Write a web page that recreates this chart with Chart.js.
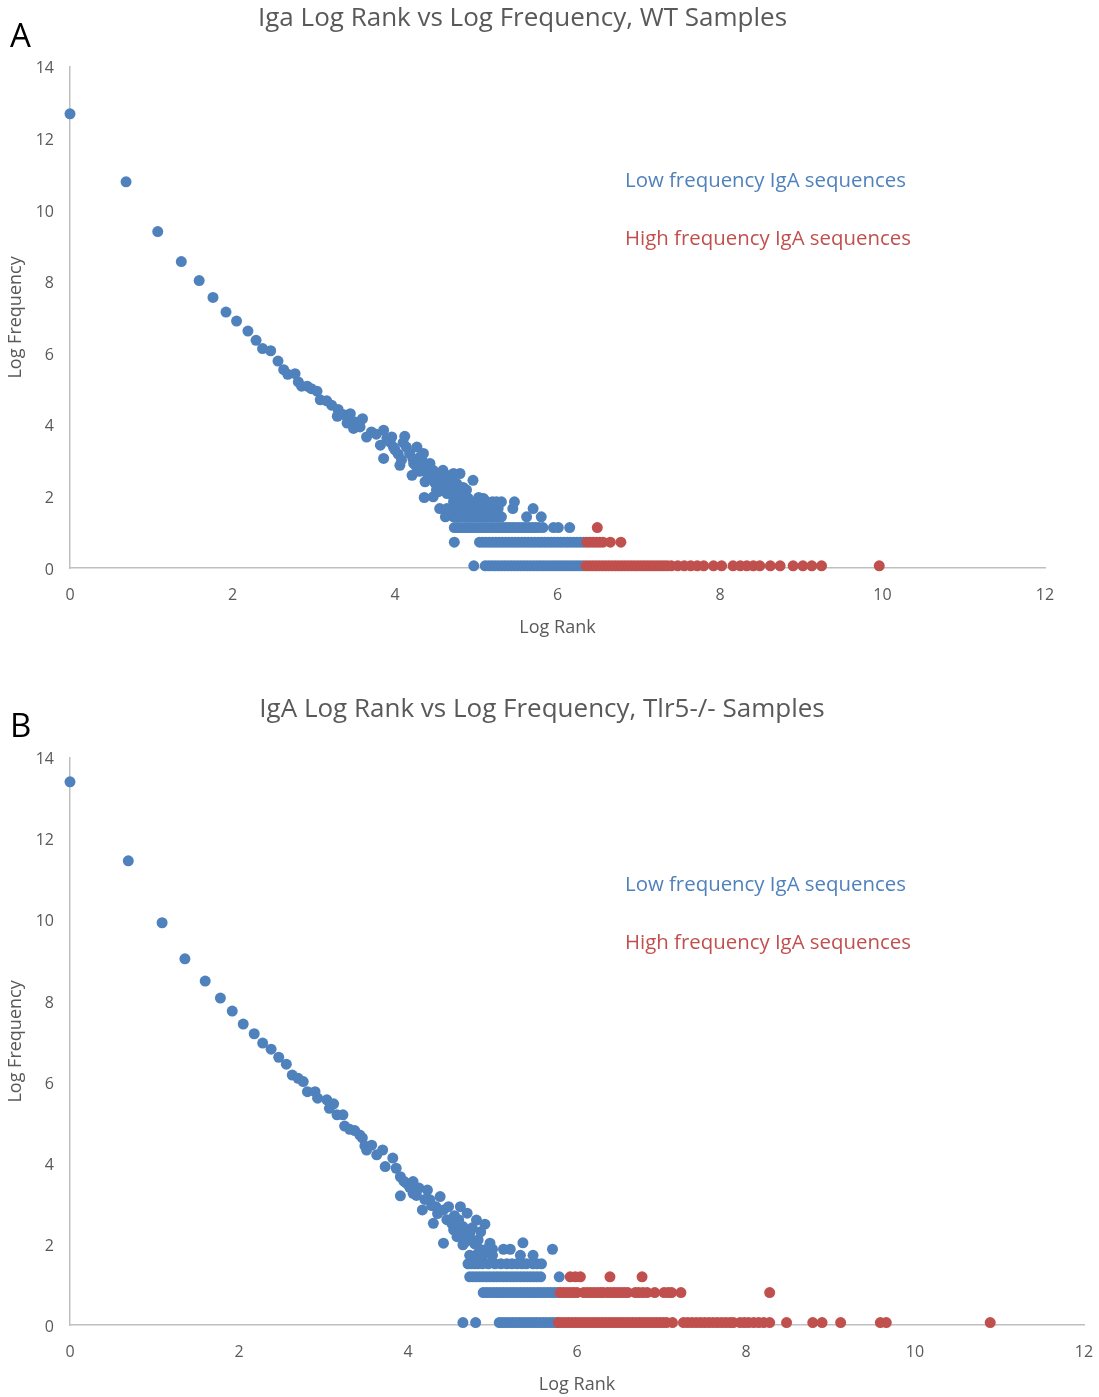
<!DOCTYPE html>
<html lang="en">
<head>
<meta charset="UTF-8">
<title>IgA Log Rank vs Log Frequency</title>
<script src="https://cdn.jsdelivr.net/npm/chart.js@4.4.1/dist/chart.umd.min.js"></script>
<style>
  body { margin: 0; background: #fff; font-family: "Open Sans", sans-serif; }
  .page { position: relative; width: 1099px; height: 1397px; overflow: hidden; }
  .panel { position: absolute; left: 0; }
  .letter { position: absolute; left: 10px; font-size: 33px; line-height: 36px; color: #000; }
  .note { position: absolute; left: 625px; font-size: 20.4px; line-height: 26px; white-space: nowrap; }
  .low { color: #4F81BD; }
  .high { color: #C0504D; }
</style>
</head>
<body>
<div class="page">
  <div class="panel" style="top:0">
    <canvas id="wtChart" width="1054" height="640"></canvas>
  </div>
  <div class="letter" style="top:17px">A</div>
  <div class="note low" style="top:166px">Low frequency IgA sequences</div>
  <div class="note high" style="top:224px">High frequency IgA sequences</div>

  <div class="panel" style="top:690px">
    <canvas id="tlrChart" width="1099" height="707"></canvas>
  </div>
  <div class="letter" style="top:707px">B</div>
  <div class="note low" style="top:870px">Low frequency IgA sequences</div>
  <div class="note high" style="top:928px">High frequency IgA sequences</div>
</div>

<script>
// ---- WT samples ----
const wtTopX = [0, 0.69, 1.08, 1.37, 1.59, 1.76, 1.92, 2.05, 2.19, 2.29, 2.37, 2.47, 2.56, 2.63, 2.68, 2.77, 2.81, 2.85, 2.92, 2.97,
  3.04, 3.08, 3.16, 3.22, 3.30, 3.29, 3.36, 3.45, 3.41, 3.49, 3.51, 3.60, 3.57, 3.65, 3.71, 3.77, 3.82, 3.86, 3.90, 3.96,
  3.98, 3.86, 4.04, 4.06, 4.12, 4.14, 4.21, 4.23, 4.27, 4.31, 4.35, 4.39, 4.37, 4.43, 4.47, 4.51, 4.55, 4.59, 4.62, 4.36,
  4.47, 4.53, 4.66, 4.72, 4.80, 4.76, 4.72, 4.88, 4.96, 3.94, 4.00, 4.08, 4.10, 4.18, 4.22, 4.26, 4.30, 4.34, 4.40, 4.45,
  4.49, 4.53, 4.58, 4.58, 4.64, 4.66, 4.68, 4.70, 4.74, 4.78, 4.84, 4.86, 4.90, 5.03, 5.09];
const wtTopY = [12.69, 10.79, 9.40, 8.56, 8.03, 7.56, 7.15, 6.90, 6.62, 6.36, 6.13, 6.07, 5.78, 5.54, 5.41, 5.43, 5.20, 5.08, 5.08, 5.01,
  4.94, 4.70, 4.67, 4.55, 4.43, 4.24, 4.29, 4.31, 4.05, 3.90, 4.08, 4.17, 3.94, 3.66, 3.80, 3.74, 3.43, 3.85, 3.62, 3.66,
  3.38, 3.06, 3.18, 2.87, 3.68, 3.38, 2.59, 2.92, 3.38, 3.10, 3.20, 2.82, 2.41, 2.92, 2.73, 2.18, 2.55, 2.73, 2.41, 1.97,
  1.99, 2.13, 2.22, 2.64, 2.64, 2.36, 1.99, 2.18, 2.45, 3.52, 3.30, 3.02, 3.50, 3.20, 3.05, 2.85, 2.70, 2.98, 2.62, 2.50,
  2.38, 2.30, 2.20, 2.45, 2.08, 2.58, 2.30, 2.48, 2.15, 2.00, 2.25, 2.05, 1.95, 1.97, 1.94];

const wtLevels = [0.06, 0.72, 1.13, 1.43, 1.66, 1.85];
const wtLowRow1 = [4.97, 5.11, 5.15, 5.19, 5.23, 5.27, 5.31, 5.35, 5.39, 5.43, 5.47, 5.51, 5.55, 5.59, 5.63, 5.67, 5.71, 5.75,
  5.79, 5.83, 5.87, 5.91, 5.95, 5.99, 6.03, 6.07, 6.11, 6.15, 6.19, 6.23, 6.27, 6.31];
const wtLowRow2 = [4.73, 5.04, 5.08, 5.12, 5.16, 5.20, 5.24, 5.28, 5.32, 5.36, 5.40, 5.44, 5.48, 5.52, 5.56, 5.60, 5.64, 5.68,
  5.72, 5.76, 5.80, 5.84, 5.88, 5.92, 5.96, 6.00, 6.04, 6.08, 6.12, 6.16, 6.20, 6.24, 6.28, 6.32];
const wtLowRow3 = [4.73, 4.77, 4.81, 4.85, 4.89, 4.93, 4.97, 5.01, 5.05, 5.09, 5.13, 5.17, 5.21, 5.25, 5.29, 5.33, 5.37, 5.41,
  5.45, 5.49, 5.53, 5.57, 5.61, 5.65, 5.69, 5.73, 5.77, 5.82, 5.95, 6.01, 6.15];
const wtLowRow4 = [4.62, 4.72, 4.76, 4.80, 4.86, 4.92, 4.96, 5.01, 5.05, 5.09, 5.13, 5.17, 5.21, 5.26, 5.31, 5.62, 5.80];
const wtLowRow5 = [4.55, 4.64, 4.72, 4.80, 4.88, 4.96, 5.05, 5.13, 5.21, 5.27, 5.45, 5.70];
const wtLowRow6 = [4.72, 4.78, 4.84, 4.92, 5.00, 5.13, 5.20, 5.25, 5.31, 5.47];
const wtHighRow1 = [6.35, 6.39, 6.43, 6.47, 6.51, 6.55, 6.59, 6.63, 6.67, 6.71, 6.75, 6.79, 6.83, 6.87, 6.91, 6.95, 6.99, 7.03,
  7.07, 7.11, 7.15, 7.19, 7.23, 7.27, 7.31, 7.35, 7.40, 7.48, 7.56, 7.64, 7.72, 7.80, 7.92, 8.02, 8.16, 8.25, 8.33, 8.41,
  8.49, 8.62, 8.74, 8.90, 9.02, 9.13, 9.25, 9.96];
const wtHighRow2 = [6.36, 6.40, 6.44, 6.48, 6.52, 6.56, 6.65, 6.78];
const wtHighRow3 = [6.49];

// ---- Tlr5-/- samples ----
const tlrTopX = [0, 0.69, 1.09, 1.36, 1.60, 1.78, 1.92, 2.05, 2.18, 2.28, 2.38, 2.47, 2.56, 2.63, 2.70, 2.76, 2.81, 2.90, 2.93, 3.04,
  3.07, 3.12, 3.16, 3.23, 3.25, 3.31, 3.37, 3.43, 3.46, 3.49, 3.51, 3.57, 3.63, 3.70, 3.73, 3.82, 3.86, 3.91, 3.91, 3.98,
  4.06, 4.06, 4.13, 4.17, 4.23, 4.26, 4.30, 4.33, 4.38, 4.42, 4.48, 4.50, 4.42, 4.54, 4.62, 4.70, 4.58, 4.65, 4.73, 4.81,
  4.91, 4.65, 4.83, 4.97, 5.36, 4.46, 4.52, 4.56, 4.60, 4.68, 4.75, 4.79, 4.60, 4.55, 4.76, 4.86, 4.68, 4.35, 4.20, 4.02,
  3.95, 4.10, 4.28];
const tlrTopY = [13.41, 11.46, 9.93, 9.04, 8.49, 8.07, 7.75, 7.43, 7.19, 6.96, 6.81, 6.61, 6.44, 6.17, 6.09, 6.01, 5.76, 5.76, 5.60, 5.56,
  5.35, 5.46, 5.19, 5.19, 4.91, 4.83, 4.80, 4.69, 4.62, 4.42, 4.32, 4.44, 4.20, 4.32, 3.91, 4.12, 3.87, 3.66, 3.19, 3.50,
  3.54, 3.25, 3.38, 2.84, 3.33, 3.09, 2.51, 2.92, 3.17, 2.84, 2.92, 2.59, 2.02, 2.35, 2.92, 2.76, 2.18, 2.43, 2.26, 2.59,
  2.49, 1.98, 2.10, 2.02, 2.03, 2.60, 2.50, 2.40, 2.30, 2.20, 2.10, 2.00, 2.60, 2.70, 2.40, 2.30, 2.05, 2.75, 3.10, 3.40,
  3.55, 3.20, 2.95];

const tlrLevels = [0.06, 0.80, 1.19, 1.51, 1.72, 1.87];
const tlrLowRow1 = [4.65, 4.80, 5.08, 5.12, 5.16, 5.20, 5.24, 5.28, 5.32, 5.36, 5.40, 5.44, 5.48, 5.52, 5.56, 5.60, 5.64, 5.68,
  5.72, 5.76];
const tlrLowRow2 = [4.89, 4.93, 4.97, 5.01, 5.05, 5.09, 5.13, 5.17, 5.21, 5.25, 5.29, 5.33, 5.37, 5.41, 5.45, 5.49, 5.53, 5.57,
  5.61, 5.65, 5.69, 5.73, 5.77];
const tlrLowRow3 = [4.73, 4.77, 4.81, 4.85, 4.89, 4.93, 4.97, 5.01, 5.05, 5.09, 5.13, 5.17, 5.21, 5.25, 5.29, 5.33, 5.37, 5.41,
  5.45, 5.49, 5.53, 5.57, 5.79];
const tlrLowRow4 = [4.71, 4.75, 4.79, 4.83, 4.88, 4.95, 5.03, 5.10, 5.17, 5.23, 5.29, 5.35, 5.40, 5.48, 5.53, 5.58];
const tlrLowRow5 = [4.73, 4.80, 4.89, 5.00, 5.33, 5.48];
const tlrLowRow6 = [4.85, 4.93, 5.00, 5.13, 5.21, 5.71];
const tlrHighRow1 = [5.78, 5.82, 5.86, 5.90, 5.94, 5.98, 6.02, 6.06, 6.10, 6.14, 6.18, 6.22, 6.26, 6.30, 6.34, 6.38, 6.42, 6.46,
  6.50, 6.54, 6.58, 6.62, 6.66, 6.70, 6.74, 6.78, 6.82, 6.86, 6.90, 6.94, 6.98, 7.02, 7.06, 7.13, 7.26, 7.31, 7.36, 7.41,
  7.46, 7.51, 7.56, 7.61, 7.66, 7.71, 7.76, 7.81, 7.85, 7.93, 7.98, 8.03, 8.09, 8.15, 8.21, 8.28, 8.48, 8.79, 8.90, 9.12,
  9.59, 9.66, 10.89];
const tlrHighRow2 = [5.80, 5.84, 5.88, 5.92, 5.96, 6.00, 6.08, 6.12, 6.16, 6.20, 6.24, 6.28, 6.31, 6.36, 6.40, 6.44, 6.48, 6.52,
  6.56, 6.60, 6.69, 6.73, 6.78, 6.83, 6.92, 7.03, 7.08, 7.12, 7.23, 8.28];
const tlrHighRow3 = [5.92, 5.98, 6.04, 6.39, 6.77];

const xTicks = [0, 2, 4, 6, 8, 10, 12];
const yTicks = [0, 2, 4, 6, 8, 10, 12, 14];

const BLUE = '#4F81BD';
const RED = '#C0504D';
const GREY_TEXT = '#595959';

function pairs(xs, ys) {
  return xs.map((x, i) => ({ x: x, y: ys[i] }));
}
function row(xs, y) {
  return xs.map(x => ({ x: x, y: y }));
}

function makeChart(id, title, lowPoints, highPoints, padRight, titlePad) {
  const ctx = document.getElementById(id).getContext('2d');
  return new Chart(ctx, {
    type: 'scatter',
    data: {
      datasets: [
        { label: 'High frequency IgA sequences', data: highPoints, backgroundColor: RED,
          pointRadius: 5.5, pointBorderWidth: 0, clip: false, order: 1 },
        { label: 'Low frequency IgA sequences', data: lowPoints, backgroundColor: BLUE,
          pointRadius: 5.5, pointBorderWidth: 0, clip: false, order: 2 }
      ]
    },
    options: {
      responsive: false,
      animation: false,
      events: [],
      layout: { padding: { left: 0, right: padRight, top: 0, bottom: 0 } },
      plugins: {
        legend: { display: false },
        tooltip: { enabled: false },
        title: {
          display: true,
          text: title,
          color: GREY_TEXT,
          font: { family: 'Open Sans', size: 26, weight: 'normal', lineHeight: 1.15 },
          padding: titlePad
        }
      },
      scales: {
        x: {
          type: 'linear',
          min: xTicks[0],
          max: xTicks[xTicks.length - 1],
          afterBuildTicks: s => { s.ticks = xTicks.map(v => ({ value: v })); },
          // fixed axis box; side overflow is handled by the layout padding
          afterFit: s => { s.height = 72; s.paddingLeft = 0; s.paddingRight = 0; },
          grid: { display: false, drawTicks: false },
          border: { display: true, color: '#BFBFBF', width: 1.5 },
          ticks: { color: GREY_TEXT, font: { family: 'Open Sans', size: 16 }, padding: 18 },
          title: { display: true, text: 'Log Rank', color: GREY_TEXT,
                   font: { family: 'Open Sans', size: 18 }, padding: { top: 0, bottom: 1 } }
        },
        y: {
          type: 'linear',
          min: yTicks[0],
          max: yTicks[yTicks.length - 1],
          afterBuildTicks: s => { s.ticks = yTicks.map(v => ({ value: v })); },
          afterFit: s => { s.width = 70; },
          grid: { display: false, drawTicks: false },
          border: { display: true, color: '#BFBFBF', width: 1.5 },
          ticks: { color: GREY_TEXT, font: { family: 'Open Sans', size: 16 }, padding: 16, labelOffset: 2 },
          title: { display: true, text: 'Log Frequency', color: GREY_TEXT,
                   font: { family: 'Open Sans', size: 18 }, padding: { top: 5, bottom: 0 } }
        }
      }
    }
  });
}

const wtLow = pairs(wtTopX, wtTopY)
  .concat(row(wtLowRow1, wtLevels[0]), row(wtLowRow2, wtLevels[1]), row(wtLowRow3, wtLevels[2]),
          row(wtLowRow4, wtLevels[3]), row(wtLowRow5, wtLevels[4]), row(wtLowRow6, wtLevels[5]));
const wtHigh = row(wtHighRow1, wtLevels[0])
  .concat(row(wtHighRow2, wtLevels[1]), row(wtHighRow3, wtLevels[2]));

const tlrLow = pairs(tlrTopX, tlrTopY)
  .concat(row(tlrLowRow1, tlrLevels[0]), row(tlrLowRow2, tlrLevels[1]), row(tlrLowRow3, tlrLevels[2]),
          row(tlrLowRow4, tlrLevels[3]), row(tlrLowRow5, tlrLevels[4]), row(tlrLowRow6, tlrLevels[5]));
const tlrHigh = row(tlrHighRow1, tlrLevels[0])
  .concat(row(tlrHighRow2, tlrLevels[1]), row(tlrHighRow3, tlrLevels[2]));

makeChart('wtChart', 'Iga Log Rank vs Log Frequency, WT Samples', wtLow, wtHigh, 9, { top: 4, bottom: 33 });
makeChart('tlrChart', 'IgA Log Rank vs Log Frequency, Tlr5-/- Samples', tlrLow, tlrHigh, 15, { top: 5, bottom: 33 });
</script>
</body>
</html>
